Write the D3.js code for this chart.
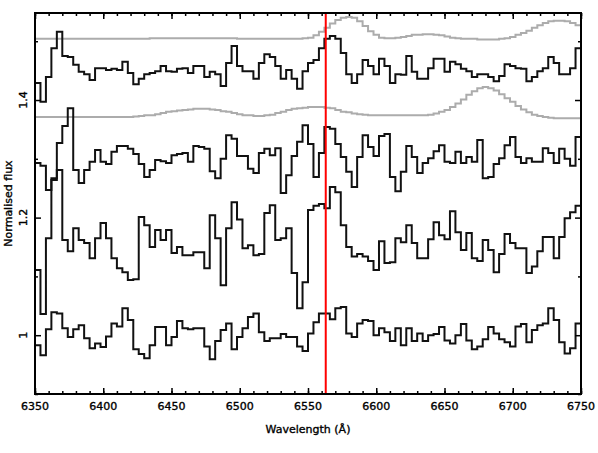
<!DOCTYPE html>
<html>
<head>
<meta charset="utf-8">
<script src="https://cdn.jsdelivr.net/npm/d3@7"></script>
<style>
  body { margin: 0; background: #fff; }
  text { font-family: "DejaVu Sans", sans-serif; font-size: 11px; fill: #000; stroke: #000; stroke-width: 0.35px; }
</style>
</head>
<body>
<div id="vis"></div>
<script>
// wavelength grid: 4 A bins from 6350 to 6750
const binStart = d3.range(6350, 6750, 4);
const xEnd = 6750;
const halpha = 6563;

// spectra (normalised flux, already offset in the picture)
const spec1 = [1.429,1.397,1.439,1.488,1.516,1.475,1.473,1.460,1.448,1.444,1.434,1.454,1.454,1.451,1.453,1.451,1.465,1.446,1.427,1.436,
  1.444,1.446,1.449,1.458,1.449,1.448,1.453,1.454,1.446,1.458,1.458,1.439,1.448,1.444,1.424,1.463,1.492,1.458,1.449,1.449,
  1.436,1.463,1.478,1.473,1.458,1.436,1.451,1.436,1.419,1.449,1.463,1.468,1.488,1.504,1.509,1.504,1.480,1.444,1.429,1.444,
  1.468,1.458,1.444,1.470,1.458,1.429,1.444,1.443,1.475,1.448,1.436,1.436,1.454,1.470,1.470,1.448,1.465,1.461,1.453,1.449,
  1.439,1.444,1.444,1.439,1.432,1.441,1.461,1.458,1.454,1.453,1.432,1.439,1.449,1.454,1.473,1.463,1.444,1.444,1.454,1.488];
const spec2 = [1.293,1.288,1.247,1.267,1.327,1.356,1.386,1.281,1.259,1.281,1.295,1.315,1.295,1.291,1.312,1.322,1.322,1.317,1.308,1.291,
  1.269,1.281,1.298,1.296,1.293,1.306,1.308,1.310,1.295,1.322,1.320,1.317,1.279,1.267,1.300,1.340,1.334,1.305,1.305,1.283,
  1.276,1.310,1.317,1.306,1.318,1.242,1.272,1.305,1.329,1.357,1.325,1.269,1.310,1.354,1.351,1.325,1.303,1.278,1.252,1.303,
  1.340,1.320,1.305,1.339,1.342,1.269,1.245,1.278,1.322,1.303,1.276,1.293,1.301,1.313,1.323,1.295,1.293,1.312,1.293,1.303,
  1.295,1.332,1.267,1.269,1.291,1.301,1.323,1.337,1.303,1.293,1.301,1.295,1.295,1.318,1.310,1.293,1.317,1.300,1.288,1.337];
const spec3 = [1.111,1.036,1.165,1.264,1.281,1.162,1.143,1.182,1.162,1.157,1.131,1.165,1.191,1.165,1.131,1.114,1.107,1.094,1.095,1.201,
  1.187,1.150,1.179,1.162,1.179,1.140,1.150,1.136,1.136,1.141,1.141,1.114,1.204,1.165,1.085,1.182,1.226,1.197,1.148,1.153,
  1.136,1.138,1.208,1.221,1.162,1.165,1.182,1.106,1.046,1.090,1.213,1.220,1.223,1.216,1.252,1.243,1.187,1.150,1.134,1.138,
  1.134,1.126,1.111,1.160,1.123,1.124,1.165,1.158,1.187,1.157,1.131,1.131,1.163,1.192,1.170,1.163,1.211,1.175,1.145,1.174,
  1.131,1.126,1.162,1.145,1.107,1.138,1.172,1.157,1.148,1.148,1.106,1.117,1.143,1.167,1.167,1.131,1.167,1.199,1.209,1.220];
const spec4 = [0.983,0.966,1.010,1.039,1.037,1.012,0.997,1.010,1.017,0.995,0.978,0.986,0.980,0.998,1.020,1.015,1.046,1.026,0.976,0.968,
  0.961,0.983,1.014,1.014,0.983,0.997,1.024,1.012,1.010,1.012,1.012,0.981,0.959,0.990,1.009,1.020,0.976,0.997,1.012,1.031,
  1.037,1.005,0.990,0.995,0.995,1.002,0.997,0.997,0.981,0.973,1.003,1.022,1.037,1.037,1.027,1.046,1.048,1.003,0.997,1.020,
  1.026,1.024,1.000,1.012,1.005,0.990,1.012,0.983,1.012,0.990,1.003,0.990,1.000,1.002,1.014,0.991,0.986,1.000,1.019,0.991,
  0.976,0.981,0.993,1.014,1.003,0.993,0.988,0.981,1.015,1.019,0.988,1.009,1.017,1.020,1.046,1.026,0.988,0.969,0.978,1.020];

// smooth grey model curves
const model1 = [1.504,1.504,1.504,1.504,1.504,1.504,1.504,1.504,1.504,1.504,1.504,1.504,1.504,1.504,1.504,1.504,1.504,1.504,1.504,1.504,
  1.504,1.505,1.505,1.505,1.505,1.505,1.505,1.505,1.505,1.505,1.505,1.505,1.505,1.505,1.505,1.505,1.505,1.504,1.504,1.504,
  1.504,1.504,1.504,1.504,1.504,1.504,1.504,1.504,1.504,1.505,1.506,1.510,1.516,1.523,1.530,1.536,1.540,1.541,1.540,1.534,
  1.526,1.517,1.511,1.506,1.505,1.505,1.506,1.507,1.509,1.511,1.511,1.512,1.512,1.511,1.510,1.508,1.506,1.505,1.504,1.504,
  1.504,1.503,1.503,1.503,1.503,1.504,1.505,1.507,1.511,1.514,1.518,1.523,1.527,1.531,1.534,1.535,1.535,1.534,1.531,1.527];
const model2 = [1.371,1.371,1.371,1.371,1.371,1.371,1.371,1.371,1.371,1.371,1.371,1.371,1.371,1.371,1.371,1.371,1.371,1.371,1.372,1.373,
  1.374,1.374,1.376,1.378,1.380,1.381,1.382,1.383,1.384,1.385,1.385,1.385,1.384,1.383,1.381,1.380,1.378,1.376,1.374,1.374,
  1.373,1.373,1.374,1.375,1.378,1.380,1.383,1.385,1.386,1.387,1.388,1.388,1.388,1.387,1.386,1.383,1.380,1.379,1.377,1.376,
  1.375,1.374,1.374,1.374,1.374,1.374,1.374,1.374,1.374,1.374,1.374,1.374,1.375,1.377,1.380,1.383,1.388,1.394,1.401,1.409,
  1.415,1.420,1.422,1.420,1.416,1.410,1.403,1.397,1.390,1.384,1.379,1.375,1.373,1.371,1.370,1.369,1.369,1.369,1.369,1.369];

const xTickLabels = [6350, 6400, 6450, 6500, 6550, 6600, 6650, 6700, 6750];
const yTickLabels = [1, 1.2, 1.4];

const margin = {top: 13, right: 17, bottom: 59, left: 35};
const width = 598 - margin.left - margin.right;
const height = 453 - margin.top - margin.bottom;

const svg = d3.select('#vis')
    .append('svg')
    .attr('width', 598)
    .attr('height', 453)
    .append('g')
    .attr('transform', `translate(${margin.left},${margin.top})`);

const x = d3.scaleLinear().domain([6350, 6750]).range([0, width]);
const y = d3.scaleLinear().domain([0.9, 1.548]).range([height, 0]);

const stepLine = d3.line()
    .x(d => x(d[0]))
    .y(d => y(d[1]))
    .curve(d3.curveStepAfter);

function toSteps(vals) {
    const pts = vals.map((v, i) => [binStart[i], v]);
    pts.push([xEnd, vals[vals.length - 1]]);
    return pts;
}

// grey models first
[model1, model2].forEach(m => {
    svg.append('path')
        .attr('d', stepLine(toSteps(m)))
        .attr('fill', 'none')
        .attr('stroke', '#acacac')
        .attr('stroke-width', 2);
});

[spec1, spec2, spec3, spec4].forEach(s => {
    svg.append('path')
        .attr('d', stepLine(toSteps(s)))
        .attr('fill', 'none')
        .attr('stroke', '#111')
        .attr('stroke-width', 2)
        .attr('stroke-linejoin', 'miter');
});

// ticks, all pointing inward
const xMajor = d3.range(6350, 6751, 50);
const xMinor = d3.range(6350, 6751, 10);
const yMajor = [1.0, 1.2, 1.4];
const yMinor = [0.9, 1.1, 1.3, 1.5];

function addAxis(axis, tr) {
    const g = svg.append('g').attr('transform', tr).call(axis);
    g.select('.domain').remove();
    g.selectAll('line').attr('stroke', '#000').attr('stroke-width', 1.5);
    g.selectAll('text').remove();
}
addAxis(d3.axisBottom(x).tickValues(xMajor).tickSize(-6), `translate(0,${height})`);
addAxis(d3.axisBottom(x).tickValues(xMinor).tickSize(-3), `translate(0,${height})`);
addAxis(d3.axisTop(x).tickValues(xMajor).tickSize(-6), 'translate(0,0)');
addAxis(d3.axisTop(x).tickValues(xMinor).tickSize(-3), 'translate(0,0)');
addAxis(d3.axisLeft(y).tickValues(yMajor).tickSize(-6), 'translate(0,0)');
addAxis(d3.axisLeft(y).tickValues(yMinor).tickSize(-3), 'translate(0,0)');
addAxis(d3.axisRight(y).tickValues(yMajor).tickSize(-6), `translate(${width},0)`);
addAxis(d3.axisRight(y).tickValues(yMinor).tickSize(-3), `translate(${width},0)`);

// H-alpha marker
svg.append('line')
    .attr('x1', x(halpha)).attr('x2', x(halpha))
    .attr('y1', 0).attr('y2', height)
    .attr('stroke', '#ff0000')
    .attr('stroke-width', 2);

// frame
svg.append('rect')
    .attr('width', width)
    .attr('height', height)
    .attr('fill', 'none')
    .attr('stroke', '#000')
    .attr('stroke-width', 2);

// tick labels
svg.selectAll('.xlab')
    .data(xTickLabels)
    .join('text')
    .attr('class', 'xlab')
    .attr('x', d => x(d))
    .attr('y', height + 16)
    .attr('text-anchor', 'middle')
    .text(d => d);

svg.selectAll('.ylab')
    .data(yTickLabels)
    .join('text')
    .attr('class', 'ylab')
    .attr('transform', d => `translate(-8,${y(d)}) rotate(-90)`)
    .attr('text-anchor', 'middle')
    .text(d => d);

svg.append('text')
    .attr('x', width / 2)
    .attr('y', height + 39)
    .attr('text-anchor', 'middle')
    .text('Wavelength (Å)');

svg.append('text')
    .attr('transform', `translate(-23,${height / 2}) rotate(-90)`)
    .attr('text-anchor', 'middle')
    .text('Normalised flux');
</script>
</body>
</html>
